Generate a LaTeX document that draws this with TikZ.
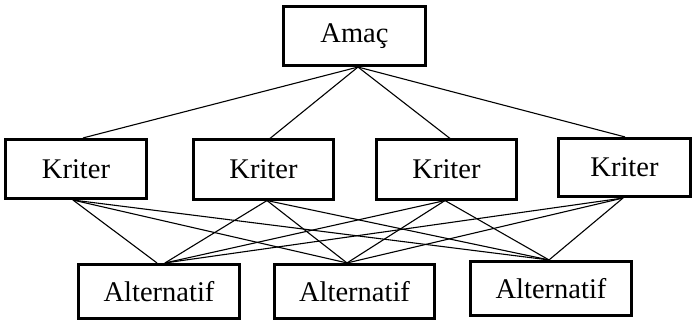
\documentclass[tikz,border=0pt]{standalone}
\usepackage{fontspec}
\setmainfont{Liberation Serif}
\begin{document}
\begin{tikzpicture}[x=1pt,y=-1pt,
  boxnode/.style={draw,line width=2.6pt,inner sep=0pt,minimum height=59.5pt,
    font=\fontsize{28.5}{32}\selectfont},
  link/.style={line width=1.1pt}]
\useasboundingbox (0,0) rectangle (694,323);
% nodes
\node[boxnode,minimum width=142.5pt] (goal) at (354.5,36) {Amaç};
\node[boxnode,minimum width=141.5pt] (k1) at (76,169) {Kriter};
\node[boxnode,minimum width=140.5pt] (k2) at (263.5,169.5) {Kriter};
\node[boxnode,minimum width=140.5pt] (k3) at (446.5,169.5) {Kriter};
\node[boxnode,minimum width=132.5pt,minimum height=58.5pt] (k4) at (624.5,167.5) {Kriter};
\node[boxnode,minimum width=161.5pt,minimum height=54.5pt] (a1) at (159,291.5) {Alternatif};
\node[boxnode,minimum width=160.5pt,minimum height=54.5pt] (a2) at (354.5,291.5) {Alternatif};
\node[boxnode,minimum width=161.5pt,minimum height=54.5pt] (a3) at (551,288.5) {Alternatif};
% goal to criteria
\draw[link] ([xshift=3.5pt]goal.south) -- ([xshift=7pt]k1.north);
\draw[link] ([xshift=3.5pt]goal.south) -- ([xshift=6.5pt]k2.north);
\draw[link] ([xshift=3.5pt]goal.south) -- ([xshift=3.5pt]k3.north);
\draw[link] ([xshift=3.5pt]goal.south) -- ([xshift=0.5pt]k4.north);
% criteria to alternatives
\draw[link] ([xshift=-3pt]k1.south) -- ([xshift=-2pt]a1.north);
\draw[link] ([xshift=-3pt]k1.south) -- ([xshift=-7.5pt]a2.north);
\draw[link] ([xshift=-3pt]k1.south) -- ([xshift=-2pt]a3.north);
\draw[link] ([xshift=3.5pt]k2.south) -- ([xshift=6pt]a1.north);
\draw[link] ([xshift=3.5pt]k2.south) -- ([xshift=-7.5pt]a2.north);
\draw[link] ([xshift=3.5pt]k2.south) -- ([xshift=-2pt]a3.north);
\draw[link] ([xshift=-1.5pt]k3.south) -- ([xshift=6pt]a1.north);
\draw[link] ([xshift=-1.5pt]k3.south) -- ([xshift=-7.5pt]a2.north);
\draw[link] ([xshift=-1.5pt]k3.south) -- ([xshift=-2pt]a3.north);
\draw[link] ([xshift=-1.5pt]k4.south) -- ([xshift=6pt]a1.north);
\draw[link] ([xshift=-1.5pt]k4.south) -- ([xshift=-7.5pt]a2.north);
\draw[link] ([xshift=-1.5pt]k4.south) -- ([xshift=-2pt]a3.north);
\end{tikzpicture}
\end{document}
